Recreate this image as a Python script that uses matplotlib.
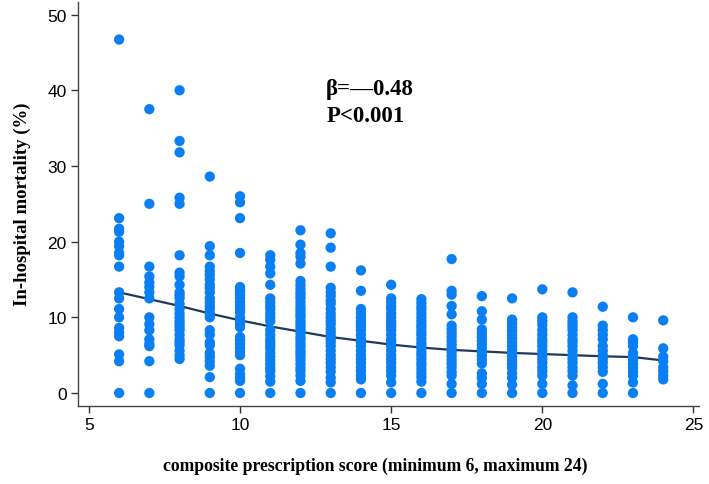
import matplotlib
matplotlib.use("Agg")
import matplotlib.pyplot as plt

# in-hospital mortality (%) per hospital, grouped by composite prescription score
scores = list(range(6, 25))
mortality = [
    [46.7, 23.1, 21.7, 21.3, 20.0, 19.4, 18.5, 18.2, 16.7, 13.3, 12.5, 11.1, 10.0, 8.6, 8.0, 7.5, 5.1, 4.2, 0],
    [37.5, 25.0, 16.7, 15.4, 14.6, 14.0, 13.3, 12.5, 10.0, 9.1, 8.3, 7.1, 6.5, 6.2, 4.2, 0],
    [40.0, 33.3, 31.8, 25.8, 25.0, 18.2, 15.9, 15.4, 14.3, 13.3, 12.9, 12.5, 11.8, 11.1, 10.5, 10.0,
     9.5, 9.1, 8.7, 8.3, 7.7, 7.1, 6.7, 6.3, 5.6, 5.0, 4.5],
    [28.6, 19.4, 18.2, 16.7, 16.1, 15.6, 15.0, 14.3, 13.9, 13.3, 12.5, 12.0, 11.5, 11.1, 10.5, 10.0,
     8.3, 7.7, 6.7, 6.3, 5.3, 4.8, 4.2, 3.6, 2.1, 0],
    [26.0, 25.2, 23.1, 18.5, 14.0, 13.6, 13.3, 12.9, 12.5, 12.0, 11.5, 11.1, 10.7, 10.0, 9.5, 9.1,
     8.7, 7.4, 7.0, 6.5, 6.0, 5.5, 5.0, 3.2, 2.5, 2.0, 1.6, 0],
    [18.2, 17.6, 16.7, 15.8, 14.3, 12.5, 12.0, 11.5, 11.1, 10.5, 10.0, 9.5, 8.3, 7.7, 7.1, 6.7,
     6.3, 5.9, 5.3, 4.8, 4.3, 3.8, 3.3, 2.9, 2.2, 1.5, 0],
    [21.5, 19.6, 18.5, 18.0, 17.1, 14.8, 14.3, 13.8, 13.3, 12.9, 12.5, 12.0, 11.5, 11.1, 10.7, 10.3,
     10.0, 9.5, 9.1, 8.7, 8.3, 7.9, 7.4, 7.0, 6.5, 6.1, 5.6, 5.2, 4.8, 4.3, 3.8, 3.3, 2.9, 2.3, 1.6, 0],
    [21.1, 19.2, 16.7, 13.9, 13.3, 12.8, 12.2, 11.8, 11.1, 10.5, 10.0, 9.5, 9.1, 8.5, 8.0, 7.5,
     7.1, 6.7, 6.2, 5.6, 5.0, 4.5, 4.0, 3.4, 2.8, 2.0, 1.4, 0],
    [16.2, 13.5, 11.1, 10.5, 10.0, 9.5, 9.1, 8.7, 8.3, 7.7, 7.1, 6.7, 6.2, 5.6, 5.0, 4.5, 4.0,
     3.4, 2.9, 2.3, 1.8, 0],
    [14.3, 12.5, 12.0, 11.5, 11.1, 10.5, 10.0, 9.5, 9.1, 8.7, 8.3, 7.7, 7.1, 6.7, 6.2, 5.6, 5.0,
     4.5, 4.0, 3.4, 2.9, 2.3, 1.4, 0],
    [12.4, 11.9, 11.4, 11.0, 10.5, 10.0, 9.5, 9.0, 8.6, 8.1, 7.7, 7.2, 6.7, 6.3, 5.9, 5.4, 5.0,
     4.5, 4.0, 3.6, 3.1, 2.6, 2.1, 1.5, 0],
    [17.7, 13.5, 13.0, 11.5, 10.4, 8.9, 8.4, 7.9, 7.4, 6.9, 6.4, 5.9, 5.4, 4.9, 4.4, 3.9, 3.4,
     2.8, 2.3, 1.2, 0],
    [12.8, 10.8, 9.7, 8.4, 7.9, 7.4, 6.9, 6.4, 5.9, 5.4, 4.9, 4.4, 3.9, 2.6, 2.0, 1.2, 0],
    [12.5, 9.7, 9.2, 8.7, 8.2, 7.7, 7.2, 6.7, 6.2, 5.7, 5.3, 4.8, 4.3, 3.8, 3.3, 2.6, 2.0, 1.1, 0],
    [13.7, 10.0, 9.5, 9.0, 8.3, 7.7, 7.1, 6.7, 6.2, 5.6, 5.0, 4.5, 4.0, 3.4, 2.9, 2.3, 1.2, 0],
    [13.3, 10.0, 9.5, 9.1, 8.7, 8.3, 7.7, 7.1, 6.7, 6.2, 5.6, 5.0, 4.5, 4.0, 3.4, 2.9, 2.3, 1.0, 0],
    [11.4, 8.9, 8.3, 7.7, 7.1, 6.2, 5.6, 5.0, 4.5, 4.0, 3.4, 2.8, 1.2, 0],
    [10.0, 7.1, 6.7, 6.2, 5.3, 4.8, 4.3, 3.8, 3.3, 2.8, 2.3, 1.4, 0],
    [9.6, 5.9, 4.8, 4.2, 3.4, 2.9, 2.3, 1.8],
]
# fitted curve
fit = [13.3, 12.4, 11.5, 10.5, 9.6, 8.8, 8.1, 7.4, 6.9, 6.4, 6.0, 5.7, 5.5, 5.3, 5.15, 5.0, 4.85, 4.75, 4.3]

xs, ys = [], []
for s, vals in zip(scores, mortality):
    xs += [s] * len(vals)
    ys += vals

fig = plt.figure(figsize=(7.09, 4.85), dpi=100)
ax = fig.add_axes([0.1096, 0.1614, 0.877, 0.833])

ax.plot(scores, fit, color="#1d3a5c", lw=1.6, zorder=2)
ax.scatter(xs, ys, s=55, color="#0a7ff4", edgecolors="none", zorder=3)

ax.set_xlim(4.63, 25.2)
ax.set_ylim(-1.68, 51.7)
ax.set_xticks([5, 10, 15, 20, 25])
ax.set_yticks([0, 10, 20, 30, 40, 50])
for side in ("top", "right"):
    ax.spines[side].set_visible(False)
for side in ("left", "bottom"):
    ax.spines[side].set_color("#444444")
    ax.spines[side].set_linewidth(1.0)
ax.tick_params(direction="out", length=5, width=1, color="#333333", labelsize=12.5, pad=3)
for lab in ax.get_xticklabels() + ax.get_yticklabels():
    lab.set_family("Liberation Sans")

serif = dict(family="Liberation Serif", fontweight="bold")
ax.set_ylabel("In-hospital mortality (%)", fontsize=13.5, labelpad=12, **serif)
ax.set_xlabel("composite prescription score (minimum 6, maximum 24)", fontsize=12.7, **serif)
ax.xaxis.set_label_coords(0.478, -0.125)

ax.text(12.85, 40.2, "β=—0.48", fontsize=16.5, va="center", ha="left", **serif)
ax.text(12.85, 36.6, "P<0.001", fontsize=16.5, va="center", ha="left", **serif)

fig.savefig("out.png", dpi=100)
